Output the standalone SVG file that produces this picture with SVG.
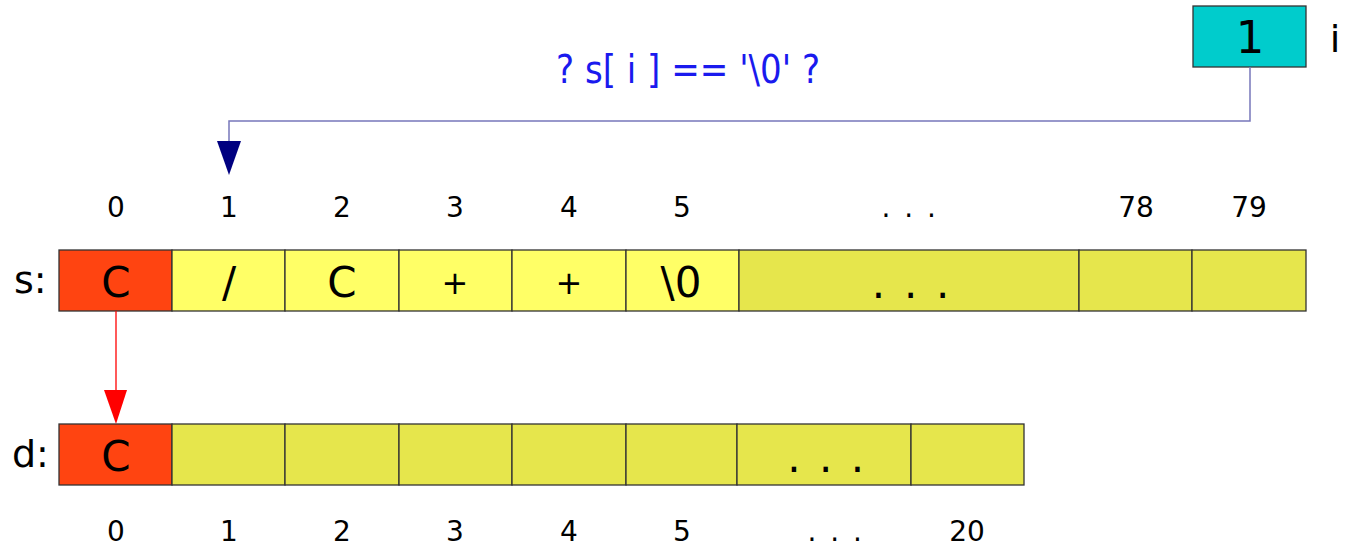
<svg xmlns="http://www.w3.org/2000/svg" width="1346" height="549" viewBox="0 0 1346 549">
<style>
.red{fill:#ff4411;stroke:#333;stroke-width:1.3}
.yl{fill:#ffff66;stroke:#333;stroke-width:1.3}
.yd{fill:#e6e64c;stroke:#333;stroke-width:1.3}
.t{font-family:"DejaVu Sans",sans-serif;fill:#000;text-anchor:middle}
.idx{font-size:28px}
.cell{font-size:42px}
.plus{font-size:32px}
.lbl{font-size:38px;text-anchor:start}
</style>
<g id="i-var">
<rect x="1193" y="6" width="113" height="61" fill="#00cccc" stroke="#333" stroke-width="1.3"/>
<text class="t" x="1250" y="53" font-size="45">1</text>
<text class="t" x="1335" y="52" font-size="38">i</text>
</g>
<g id="question">
<text class="t" x="688" y="83" font-size="39" style="fill:#1a1aee" textLength="264" lengthAdjust="spacingAndGlyphs">? s[ i ] == '\0' ?</text>
</g>
<g id="s-indices" class="t idx">
<text x="116" y="217">0</text><text x="229" y="217">1</text><text x="342" y="217">2</text><text x="455" y="217">3</text><text x="569" y="217">4</text><text x="682" y="217">5</text><text x="910" y="217" letter-spacing="2.5">. . .</text><text x="1136" y="217">78</text><text x="1249" y="217">79</text>
</g>
<g id="s-array">
<text class="t lbl" x="14" y="293">s:</text>
<rect class="red" x="59" y="250" width="113" height="61"/>
<rect class="yl" x="172" y="250" width="113" height="61"/>
<rect class="yl" x="285" y="250" width="114" height="61"/>
<rect class="yl" x="399" y="250" width="113" height="61"/>
<rect class="yl" x="512" y="250" width="114" height="61"/>
<rect class="yl" x="626" y="250" width="113" height="61"/>
<rect class="yd" x="739" y="250" width="340" height="61"/>
<rect class="yd" x="1079" y="250" width="113" height="61"/>
<rect class="yd" x="1192" y="250" width="114" height="61"/>
<g class="t cell">
<text x="116" y="297">C</text><text x="229" y="297">/</text><text x="342" y="297">C</text><text class="plus" x="455" y="294">+</text><text class="plus" x="569" y="294">+</text><text x="681" y="297">\0</text>
</g>
<text class="t cell" x="912" y="298" letter-spacing="2.7">. . .</text>
</g>
<g id="d-array">
<text class="t lbl" x="12" y="467">d:</text>
<rect class="red" x="59" y="424" width="113" height="61"/>
<rect class="yd" x="172" y="424" width="113" height="61"/>
<rect class="yd" x="285" y="424" width="114" height="61"/>
<rect class="yd" x="399" y="424" width="113" height="61"/>
<rect class="yd" x="512" y="424" width="114" height="61"/>
<rect class="yd" x="626" y="424" width="111" height="61"/>
<rect class="yd" x="737" y="424" width="174" height="61"/>
<rect class="yd" x="911" y="424" width="113" height="61"/>
<text class="t cell" x="116" y="471">C</text>
<text class="t cell" x="827" y="472" letter-spacing="2.5">. . .</text>
</g>
<g id="d-indices" class="t idx">
<text x="116" y="541">0</text><text x="229" y="541">1</text><text x="342" y="541">2</text><text x="455" y="541">3</text><text x="569" y="541">4</text><text x="682" y="541">5</text><text x="836" y="541" letter-spacing="2.5">. . .</text><text x="967" y="541">20</text>
</g>
<g id="connectors">
<polyline points="1250,67 1250,121 229,121 229,142" fill="none" stroke="#7777bb" stroke-width="1.5"/>
<path d="M217,141 L241,141 L229,175 Z" fill="#000080"/>
<line x1="116" y1="311" x2="116" y2="391" stroke="#ff0000" stroke-width="1.3"/>
<path d="M104,390 L127,390 L116,424 Z" fill="#ff0000"/>
</g>
</svg>
